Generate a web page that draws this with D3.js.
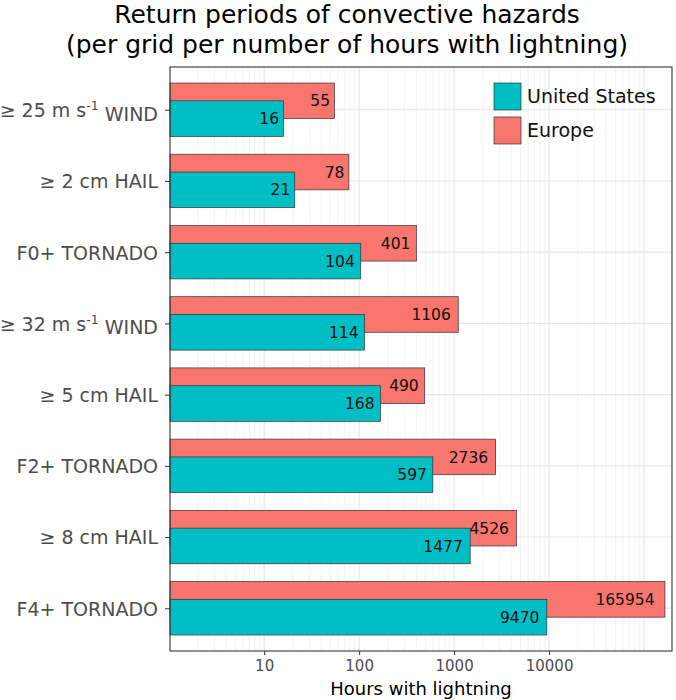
<!DOCTYPE html>
<html>
<head>
<meta charset="utf-8">
<script src="https://cdn.jsdelivr.net/npm/d3@7"></script>
<style>
body { margin:0; background:#fff; }
text { font-family: "DejaVu Sans", sans-serif; }
</style>
</head>
<body>
<svg id="chart" width="676" height="700"></svg>
<script>
// Data
const categories = ["≥ 25 m s^-1 WIND", "≥ 2 cm HAIL", "F0+ TORNADO", "≥ 32 m s^-1 WIND", "≥ 5 cm HAIL", "F2+ TORNADO", "≥ 8 cm HAIL", "F4+ TORNADO"];
const usValues = [16, 21, 104, 114, 168, 597, 1477, 9470];
const euValues = [55, 78, 401, 1106, 490, 2736, 4526, 165954];
const seriesNames = ["United States", "Europe"];
const xTicks = [10, 100, 1000, 10000];
const titleLines = ["Return periods of convective hazards", "(per grid per number of hours with lightning)"];
const xTitle = "Hours with lightning";

const colors = {"United States": "#00BFC4", "Europe": "#F8766D"};

(function() {
const svg = d3.select("#chart");
const pL = 170, pR = 672, pT = 67, pB = 651;
const numFont = "'Liberation Sans', Arial, sans-serif";

const x = d3.scaleLog().domain([1.02, 197000]).range([pL, pR]);
const y = d3.scalePoint().domain(categories).range([pT, pB]).padding(0.6);
const step = y.step();
const barH = step * 0.5;
const dodge = step * 0.125;

// Grid
const minor = [];
for (let e = 0; e <= 5; e++) for (let m = 2; m <= 9; m++) { const v = m * Math.pow(10, e); if (v > 1.02 && v < 197000) minor.push(v); }
const major = [10, 100, 1000, 10000, 100000];
svg.append("g").selectAll("line").data(minor).join("line")
  .attr("x1", d => x(d)).attr("x2", d => x(d)).attr("y1", pT).attr("y2", pB)
  .attr("stroke", "#ebebeb").attr("stroke-width", 0.6);
svg.append("g").selectAll("line").data(major).join("line")
  .attr("x1", d => x(d)).attr("x2", d => x(d)).attr("y1", pT).attr("y2", pB)
  .attr("stroke", "#e5e5e5").attr("stroke-width", 1.1);
svg.append("g").selectAll("line").data(categories).join("line")
  .attr("x1", pL).attr("x2", pR).attr("y1", d => y(d)).attr("y2", d => y(d))
  .attr("stroke", "#e5e5e5").attr("stroke-width", 1.1);

// Bars
const rows = categories.map((c, i) => ({c, us: usValues[i], eu: euValues[i]}));
const gBars = svg.append("g");
function placeLabel(sel, key) {
  sel.each(function(d) {
    const w = this.getComputedTextLength();
    d3.select(this).attr("x", x(d[key]) - 1.5 - 0.15 * w);
  });
}
gBars.selectAll("rect.eu").data(rows).join("rect").attr("class", "eu")
  .attr("x", x(1.02)).attr("y", d => y(d.c) - dodge - barH / 2)
  .attr("width", d => x(d.eu) - x(1.02)).attr("height", barH)
  .attr("fill", colors["Europe"]).attr("stroke", "#333").attr("stroke-width", 0.7);
gBars.selectAll("text.eu").data(rows).join("text").attr("class", "eu")
  .attr("y", d => y(d.c) - dodge).attr("dy", "0.36em")
  .attr("text-anchor", "end").attr("font-size", 15.5).attr("font-family", numFont)
  .attr("fill", "#111").text(d => d.eu).call(placeLabel, "eu");
gBars.selectAll("rect.us").data(rows).join("rect").attr("class", "us")
  .attr("x", x(1.02)).attr("y", d => y(d.c) + dodge - barH / 2)
  .attr("width", d => x(d.us) - x(1.02)).attr("height", barH)
  .attr("fill", colors["United States"]).attr("stroke", "#333").attr("stroke-width", 0.7);
gBars.selectAll("text.us").data(rows).join("text").attr("class", "us")
  .attr("y", d => y(d.c) + dodge).attr("dy", "0.36em")
  .attr("text-anchor", "end").attr("font-size", 15.5).attr("font-family", numFont)
  .attr("fill", "#111").text(d => d.us).call(placeLabel, "us");

// Panel border
svg.append("rect").attr("x", pL).attr("y", pT).attr("width", pR - pL).attr("height", pB - pT)
  .attr("fill", "none").attr("stroke", "#333").attr("stroke-width", 1.1);

// X axis
const xAxis = d3.axisBottom(x).tickValues(xTicks).tickFormat(d3.format("d")).tickSize(4).tickPadding(5);
const gx = svg.append("g").attr("transform", `translate(0,${pB})`).call(xAxis);
gx.select(".domain").remove();
gx.selectAll(".tick line").attr("stroke", "#333");
gx.selectAll(".tick text").attr("font-size", 15).attr("fill", "#4d4d4d").attr("font-family", numFont);

// Y axis
const yAxis = d3.axisLeft(y).tickSize(5).tickPadding(6).tickFormat("");
const gy = svg.append("g").attr("transform", `translate(${pL},0)`).call(yAxis);
gy.select(".domain").remove();
gy.selectAll(".tick line").attr("stroke", "#333");
gy.selectAll(".tick text").remove();
gy.selectAll(".tick").append("text")
  .attr("x", -12).attr("dy", "0.36em").attr("text-anchor", "end")
  .attr("font-size", 19).attr("fill", "#4d4d4d").attr("font-family", "DejaVu Sans")
  .each(function(d) {
    const t = d3.select(this);
    const parts = d.split("^-1");
    t.append("tspan").text(parts[0]);
    if (parts.length > 1) {
      t.append("tspan").attr("font-size", 12.5).attr("dy", "-0.55em").text("-1");
      t.append("tspan").attr("dy", "0.55em").text("\u00a0" + parts[1].trim());
    }
  });

// X title
svg.append("text").attr("x", (pL + pR) / 2).attr("y", 695).attr("text-anchor", "middle")
  .attr("font-size", 18).attr("font-family", numFont).attr("fill", "#000").text(xTitle);

// Title
svg.append("g").selectAll("text").data(titleLines).join("text")
  .attr("x", 347).attr("y", (d, i) => 23 + i * 30).attr("text-anchor", "middle")
  .attr("font-size", 25).attr("fill", "#000").text(d => d);

// Legend
const lg = svg.append("g").attr("transform", "translate(494,83)");
const li = lg.selectAll("g").data(seriesNames).join("g").attr("transform", (d, i) => `translate(0,${i * 34})`);
li.append("rect").attr("width", 27).attr("height", 27).attr("fill", d => colors[d]).attr("stroke", "#333").attr("stroke-width", 0.7);
li.append("text").attr("x", 33).attr("y", 13.5).attr("dy", "0.36em").attr("font-size", 19).attr("fill", "#111").text(d => d);
})();
</script>
</body>
</html>
